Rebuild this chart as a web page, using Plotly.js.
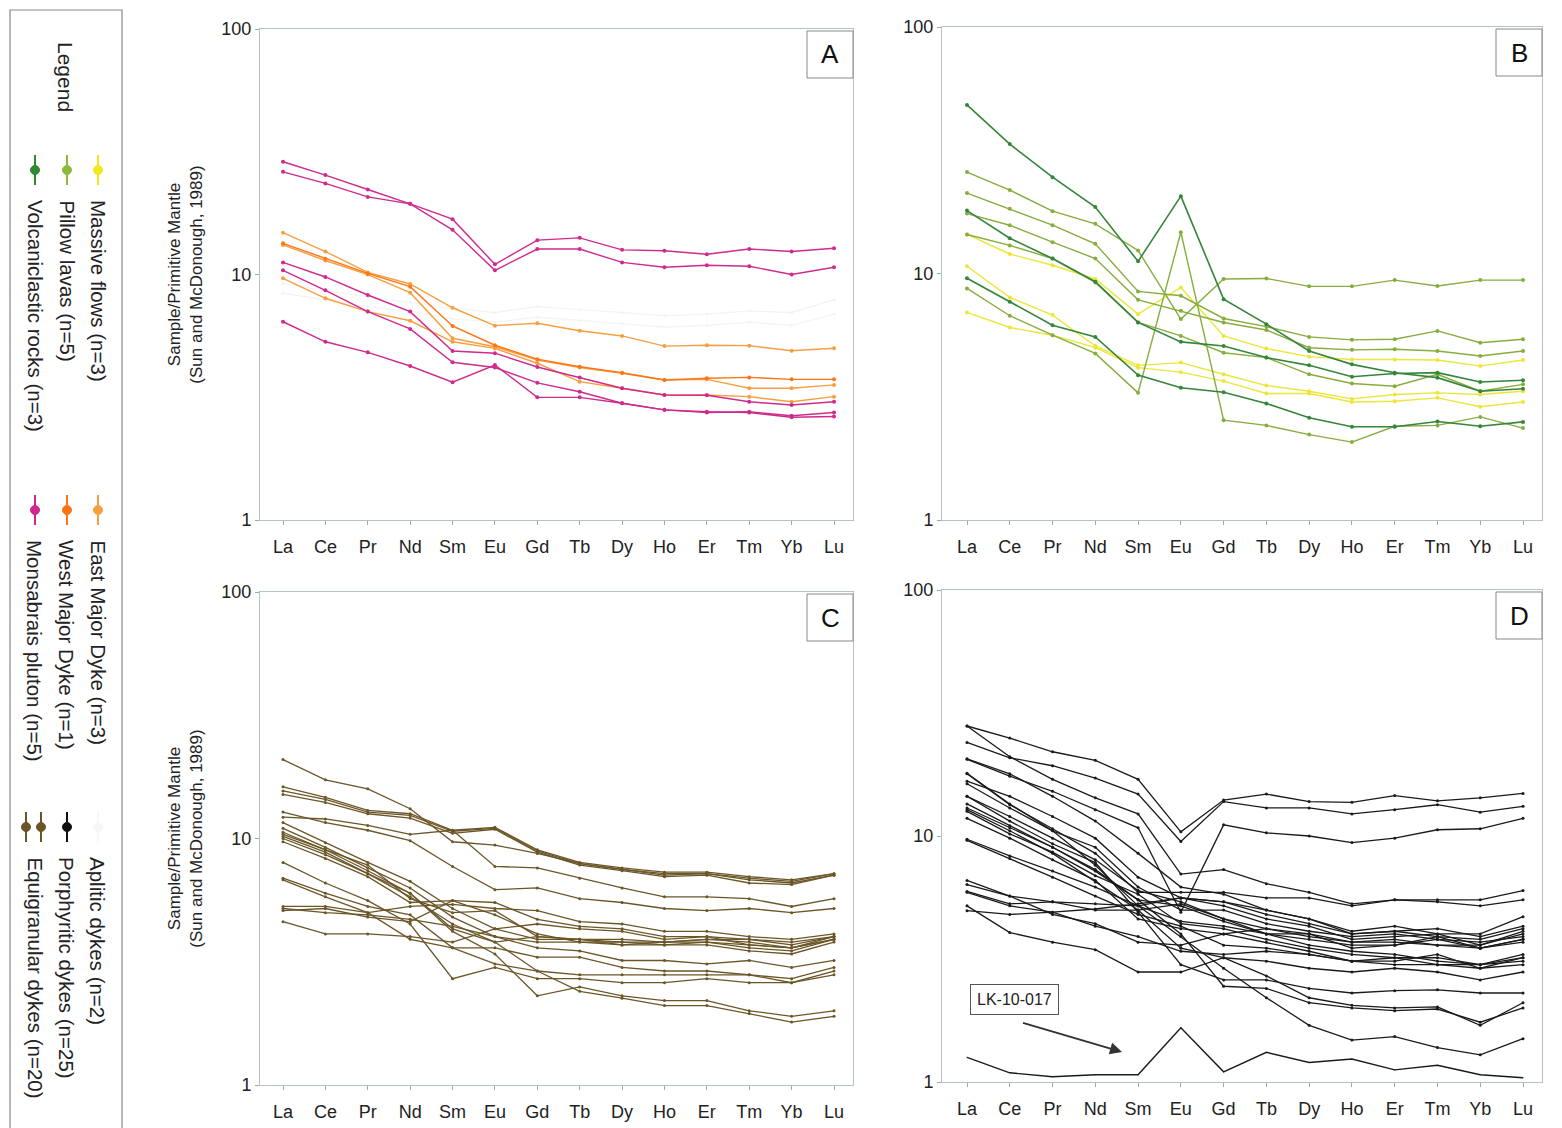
<!DOCTYPE html>
<html>
<head>
<meta charset="utf-8">
<script src="https://cdn.plot.ly/plotly-3.0.1.min.js"></script>
<style>html,body{margin:0;padding:0;background:#fff;}#chart{width:1562px;height:1128px;}</style>
</head>
<body>
<div id="chart"></div>
<script>
// ---------- DATA ----------
const REE = ['La','Ce','Pr','Nd','Sm','Eu','Gd','Tb','Dy','Ho','Er','Tm','Yb','Lu'];

// Panel A
const monsabraisPluton = [
  [28.8,25.4,22.2,19.4,16.8,11.0,13.8,14.1,12.6,12.5,12.1,12.7,12.4,12.8],
  [26.2,23.5,20.7,19.4,15.2,10.4,12.7,12.7,11.2,10.7,10.9,10.8,10.0,10.7],
  [11.2,9.77,8.25,7.06,4.88,4.78,4.2,3.81,3.44,3.23,3.22,3.03,2.94,3.03],
  [10.4,8.62,7.06,6.0,4.39,4.18,3.62,3.33,2.99,2.81,2.76,2.74,2.62,2.64],
  [6.42,5.32,4.82,4.24,3.64,4.28,3.16,3.16,2.99,2.81,2.74,2.76,2.66,2.74]
];
const eastMajorDyke = [
  [14.8,12.4,10.2,9.15,7.32,6.19,6.33,5.9,5.62,5.11,5.15,5.13,4.89,5.01],
  [13.2,11.4,9.99,8.43,5.5,5.08,4.48,4.18,3.96,3.72,3.74,3.44,3.44,3.55],
  [9.65,8.0,7.06,6.48,5.32,5.0,4.35,3.66,3.44,3.23,3.23,3.18,3.03,3.18]
];
const westMajorDyke = [
  [13.4,11.6,10.1,8.92,6.17,5.15,4.52,4.21,3.98,3.72,3.78,3.81,3.74,3.74]
];
const apliticDykes = [
  [9.2,8.6,8.1,7.7,7.3,7.0,7.4,7.2,7.0,6.8,6.9,7.1,7.0,7.9],
  [8.4,7.9,7.4,7.1,6.6,6.4,6.7,6.5,6.3,6.1,6.2,6.4,6.2,6.9]
];

// Panel B
const massiveFlows = [
  [14.4,12.0,10.8,9.5,6.84,8.78,5.58,4.96,4.6,4.48,4.48,4.46,4.21,4.46],
  [10.7,8.0,6.78,5.08,4.24,4.35,3.9,3.51,3.33,3.1,3.23,3.28,3.23,3.33],
  [6.95,6.04,5.62,5.0,4.15,3.98,3.66,3.26,3.26,3.01,3.03,3.13,2.88,3.01]
];
const pillowLavas = [
  [25.8,21.8,17.9,15.9,12.4,6.53,9.5,9.55,8.87,8.87,9.4,8.9,9.4,9.4],
  [21.2,18.3,15.7,13.2,8.46,8.12,6.57,6.09,5.53,5.38,5.41,5.85,5.24,5.41],
  [17.5,15.7,13.4,11.5,7.82,7.06,6.33,5.9,5.0,4.9,4.93,4.85,4.63,4.85],
  [14.4,13.0,11.5,9.2,6.33,5.58,4.77,4.56,3.9,3.58,3.49,3.9,3.33,3.55],
  [8.7,6.74,5.62,4.74,3.28,14.7,2.54,2.42,2.22,2.07,2.40,2.42,2.62,2.36]
];
const volcaniclasticRocks = [
  [48.3,33.5,24.6,18.6,11.2,20.6,7.87,6.23,4.85,4.28,3.96,3.78,3.33,3.41],
  [18.0,13.9,11.5,9.26,6.33,5.28,5.08,4.56,4.24,3.81,3.93,3.96,3.63,3.69],
  [9.56,7.68,6.17,5.53,3.87,3.44,3.3,2.97,2.6,2.39,2.39,2.51,2.4,2.5]
];

// Panel C
const equigranularDykes = [
  [20.9,17.3,15.9,13.2,9.7,9.4,8.7,7.9,7.5,7.2,7.2,6.9,6.7,7.2],
  [16.2,14.7,13.0,12.6,10.8,11.1,9.0,8.0,7.6,7.3,7.3,7.0,6.8,7.2],
  [15.6,14.4,12.8,12.4,10.7,11.0,8.9,7.9,7.5,7.1,7.2,6.8,6.6,7.1],
  [15.1,14.0,12.6,12.1,10.5,10.9,8.8,7.8,7.4,7.0,7.1,6.6,6.5,7.1],
  [12.2,12.0,11.3,10.4,10.8,7.7,7.6,6.9,6.3,5.8,5.8,5.7,5.3,5.7],
  [12.8,11.6,10.8,9.8,7.7,6.2,6.3,5.7,5.5,5.2,5.1,5.2,5.0,5.2],
  [11.6,9.6,8.0,6.7,5.2,4.3,3.9,3.9,3.9,3.8,3.9,3.9,3.7,4.0],
  [11.0,9.2,7.6,6.3,4.8,4.0,3.8,3.8,3.8,3.7,3.8,3.6,3.5,3.9],
  [10.4,9.0,7.8,5.7,5.0,5.1,4.0,3.9,3.8,3.8,3.8,3.7,3.6,3.9],
  [10.0,8.6,7.2,6.0,4.3,3.8,4.0,3.9,3.7,3.8,3.9,3.8,3.6,4.0],
  [9.7,8.3,7.0,5.5,5.6,4.9,4.1,3.8,3.7,3.7,3.7,3.5,3.4,3.8],
  [5.3,5.3,5.0,5.3,5.4,5.2,5.1,4.6,4.5,4.2,4.2,4.0,3.9,4.1],
  [5.1,5.2,4.8,4.6,5.6,5.5,4.7,4.4,4.3,4.0,4.0,3.9,3.8,4.0],
  [4.6,4.1,4.1,4.0,3.8,4.3,4.5,4.3,4.2,3.9,4.0,3.7,3.6,3.9],
  [5.2,5.0,4.9,4.7,4.4,4.0,3.6,3.5,3.2,3.2,3.1,3.2,3.0,3.2],
  [6.9,6.0,5.3,4.9,3.6,3.6,3.3,3.3,3.0,2.9,2.9,2.8,2.7,3.0],
  [6.8,5.8,5.0,3.9,3.6,3.1,2.9,2.8,2.8,2.8,2.8,2.8,2.6,2.9],
  [8.0,6.6,5.6,4.5,2.7,3.0,2.7,2.7,2.6,2.6,2.7,2.6,2.6,2.8],
  [10.6,9.0,7.4,6.0,4.2,3.4,2.3,2.5,2.3,2.2,2.2,2.0,1.9,2.0],
  [10.2,8.8,7.2,5.8,4.5,3.8,2.9,2.4,2.25,2.1,2.1,1.95,1.8,1.9]
];

// Panel D
const porphyriticDykes = [
  [28.0,25.0,22.0,20.3,17.0,10.4,14.0,14.8,13.8,13.7,14.6,13.9,14.3,14.9],
  [24.0,20.8,19.3,17.2,14.8,9.5,13.8,13.0,13.0,12.3,12.8,13.4,12.5,13.2],
  [20.5,17.5,15.2,12.8,10.8,4.9,11.1,10.3,10.0,9.4,9.8,10.6,10.7,11.8],
  [28.0,21.0,17.0,14.3,12.3,7.0,7.3,6.4,5.9,5.3,5.5,5.5,5.5,6.0],
  [17.9,13.4,10.7,8.5,5.9,5.9,5.9,5.6,5.6,5.2,5.5,5.4,5.2,5.5],
  [18.0,13.5,10.5,7.6,5.2,3.9,2.9,2.2,1.7,1.48,1.53,1.38,1.29,1.5],
  [13.5,11.0,9.0,7.2,5.5,4.0,2.45,2.4,2.1,2.0,1.95,1.98,1.75,2.0],
  [12.8,10.5,8.5,6.5,5.0,3.5,3.2,2.7,2.2,2.05,2.0,2.02,1.7,2.1],
  [14.5,11.5,9.3,7.8,4.9,3.0,2.6,2.6,2.4,2.3,2.35,2.37,2.3,2.3],
  [20.6,17.9,14.5,11.5,8.5,6.2,5.8,5.0,4.6,4.0,4.1,3.9,3.8,4.2],
  [16.7,14.5,12.0,9.8,6.8,5.6,5.2,4.6,4.3,3.8,3.9,4.0,3.6,4.0],
  [16.3,13.0,10.5,9.0,6.2,5.0,5.0,4.4,4.1,3.9,4.0,3.8,3.7,3.9],
  [14.5,12.0,9.8,8.0,6.0,5.4,4.6,4.2,4.0,3.7,3.8,3.6,3.5,3.8],
  [13.0,10.8,9.0,7.3,5.5,5.2,4.5,4.0,3.8,3.6,3.6,3.9,3.5,3.7],
  [12.6,10.2,8.6,6.9,5.8,4.4,4.2,3.8,3.5,3.3,3.2,3.2,3.0,3.3],
  [11.8,9.8,8.0,6.6,4.6,4.2,4.0,3.7,3.4,3.1,3.1,3.3,2.9,3.2],
  [9.7,8.3,7.2,6.2,5.2,4.5,4.3,4.0,3.6,3.4,3.3,3.1,3.0,3.1],
  [9.6,8.1,6.8,5.7,4.8,4.3,3.6,3.5,3.3,3.1,3.0,3.0,2.9,3.0],
  [6.6,5.7,5.4,5.3,5.2,5.6,5.4,5.0,4.6,4.1,4.3,4.0,4.0,4.7],
  [6.35,5.7,4.8,4.4,3.7,3.6,4.0,4.2,3.9,3.7,3.7,3.6,3.6,4.1],
  [5.95,5.3,5.4,5.0,5.0,5.3,4.6,4.0,4.0,3.5,3.6,3.8,3.5,3.8],
  [5.2,4.05,3.7,3.45,2.8,2.8,3.2,3.1,2.9,2.8,2.9,2.8,2.6,2.8],
  [4.97,4.8,4.9,5.05,5.3,5.6,5.4,4.8,4.4,4.0,4.1,4.2,3.9,4.3],
  [5.9,5.2,4.9,4.3,3.9,3.4,3.3,3.4,3.3,3.1,3.2,3.0,3.0,3.2]
];
const lk10017 = [1.26,1.09,1.05,1.07,1.07,1.66,1.1,1.32,1.2,1.24,1.12,1.17,1.07,1.04];

const yTickVals = [1,10,100];
const yTickText = ['1','10','100'];
const panelLabels = ['A','B','C','D'];
const legendItems = [
  {label:'Massive flows (n=3)', color:'#f4e81a'},
  {label:'Pillow lavas (n=5)', color:'#8cbb3c'},
  {label:'Volcaniclastic rocks (n=3)', color:'#2f8a2f'},
  {label:'East Major Dyke (n=3)', color:'#f5a040'},
  {label:'West Major Dyke (n=1)', color:'#ff7414'},
  {label:'Monsabrais pluton (n=5)', color:'#d0288e'},
  {label:'Aplitic dykes (n=2)', color:'#f7f7f7'},
  {label:'Porphyritic dykes (n=25)', color:'#111111'},
  {label:'Equigranular dykes (n=20)', color:'#6b5628'}
];

// ---------- BUILD ----------
const W = 1562, H = 1128;
const px = x => x / W;
const py = y => 1 - y / H;
const FONT = 'Liberation Sans, Arial, sans-serif';

const traces = [];
function addSeries(rows, color, ax, width, msize) {
  rows.forEach(r => traces.push({
    type:'scatter', mode:'lines+markers', x: REE, y: r,
    xaxis: 'x' + ax, yaxis: 'y' + ax,
    line:{color: color, width: width || 1.4},
    marker:{color: color, size: msize || 4},
    showlegend:false, hoverinfo:'skip'
  }));
}
addSeries(apliticDykes, '#f3f3f3', '', 1.2, 3);
addSeries(eastMajorDyke, '#f5a040', '');
addSeries(westMajorDyke, '#ff7414', '');
addSeries(monsabraisPluton, '#cf2a8d', '');
addSeries(massiveFlows, '#ece63a', '2');
addSeries(pillowLavas, '#86ad3e', '2');
addSeries(volcaniclasticRocks, '#35853a', '2', 1.6);
addSeries(equigranularDykes, '#6b5628', '3', 1.3, 3);
addSeries(porphyriticDykes, '#1a1a1a', '4', 1.3, 3);
addSeries([lk10017], '#1a1a1a', '4', 1.4, 1);

const panels = [
  {x:[260,853], y:[29,520], la:283, lu:834},
  {x:[942,1542], y:[27,520], la:967, lu:1523},
  {x:[260,853], y:[592,1085], la:283, lu:834},
  {x:[942,1542], y:[590,1082], la:967, lu:1523}
];

const layout = {
  width: W, height: H,
  margin:{l:0,r:0,t:0,b:0},
  paper_bgcolor:'#fff', plot_bgcolor:'#fff',
  font:{family: FONT, color:'#222'},
  shapes: [], annotations: []
};

panels.forEach((p, i) => {
  const suf = i === 0 ? '' : String(i + 1);
  const step = (p.lu - p.la) / 13;
  const r0 = -(p.la - p.x[0]) / step;
  const r1 = 13 + (p.x[1] - p.lu) / step;
  layout['xaxis' + suf] = {
    domain:[px(p.x[0]), px(p.x[1])],
    anchor:'y' + suf, type:'category', categoryarray: REE,
    range:[r0, r1], showgrid:false, zeroline:false,
    showline:true, mirror:true, linecolor:'#b4c2ca', linewidth:1,
    ticks:'outside', ticklen:4, tickcolor:'#9aa', ticklabelstandoff:6,
    tickfont:{size:18, color:'#222', family: FONT}
  };
  const yax = {
    domain:[py(p.y[1]), py(p.y[0])],
    anchor:'x' + suf, type:'log', range:[0, 2],
    tickvals: yTickVals, ticktext: yTickText,
    showgrid:false, zeroline:false,
    showline:true, mirror:true, linecolor:'#b4c2ca', linewidth:1,
    ticks:'outside', ticklen:4, tickcolor:'#9aa',
    tickfont:{size:18, color:'#222', family: FONT}
  };
  if (i === 0 || i === 2) {
    yax.title = {text:'Sample/Primitive Mantle<br>(Sun and McDonough, 1989)', font:{size:17, color:'#222', family: FONT}, standoff: 14};
  }
  layout['yaxis' + suf] = yax;

  // panel label box
  const bx1 = p.x[1], bx0 = p.x[1] - 46, by0 = p.y[0] + 2, by1 = p.y[0] + 49;
  layout.shapes.push({type:'rect', xref:'paper', yref:'paper',
    x0:px(bx0), x1:px(bx1), y0:py(by1), y1:py(by0),
    line:{color:'#888', width:1}, fillcolor:'#fff'});
  layout.annotations.push({xref:'paper', yref:'paper', x:px((bx0+bx1)/2), y:py((by0+by1)/2),
    text: panelLabels[i], showarrow:false, font:{size:26, color:'#111', family: FONT},
    xanchor:'center', yanchor:'middle'});
});

// LK-10-017 label and arrow
layout.annotations.push({xref:'paper', yref:'paper', x:px(1014), y:py(999),
  text:'LK-10-017', showarrow:false, font:{size:16, color:'#222', family: FONT},
  bordercolor:'#555', borderwidth:1, borderpad:6, bgcolor:'#fff',
  xanchor:'center', yanchor:'middle'});
layout.annotations.push({xref:'paper', yref:'paper', x:px(1122), y:py(1052),
  text:' ', showarrow:true, ax:-102, ay:-30, arrowhead:2, arrowsize:1.2, arrowwidth:2, arrowcolor:'#333'});

// Legend frame
layout.shapes.push({type:'rect', xref:'paper', yref:'paper', x0:px(10), x1:px(122), y0:py(1130), y1:py(10),
  line:{color:'#888', width:1.2}, fillcolor:'rgba(0,0,0,0)'});
layout.annotations.push({xref:'paper', yref:'paper', x:px(66), y:py(40), text:'Legend',
  textangle:90, showarrow:false, font:{size:21, color:'#222', family: FONT}, xanchor:'center', yanchor:'top'});

const colX = [98, 67, 35];
const groupY = [170, 510, 827];
legendItems.forEach((it, k) => {
  const g = Math.floor(k / 3), c = k % 3;
  const cx = colX[c], my = groupY[g];
  const xs = (k === 8) ? [26, 41] : [cx];
  xs.forEach(xx => {
    layout.shapes.push({type:'line', xref:'paper', yref:'paper', x0:px(xx), x1:px(xx), y0:py(my-15), y1:py(my+15),
      line:{color: it.color, width:2}});
    layout.shapes.push({type:'line', xref:'paper', yref:'paper', x0:px(xx-4), x1:px(xx+4), y0:py(my), y1:py(my),
      line:{color: it.color, width:2}});
    layout.shapes.push({type:'circle', xref:'paper', yref:'paper', x0:px(xx-4.5), x1:px(xx+4.5), y0:py(my+4.5), y1:py(my-4.5),
      line:{color: it.color, width:1}, fillcolor: it.color});
  });
  layout.annotations.push({xref:'paper', yref:'paper', x:px(cx), y:py(my + 28),
    text: it.label, textangle:90, showarrow:false,
    font:{size:20.5, color:'#222', family: FONT}, xanchor:'center', yanchor:'top'});
});

Plotly.newPlot('chart', traces, layout, {displayModeBar:false, staticPlot:true});
</script>
</body>
</html>
